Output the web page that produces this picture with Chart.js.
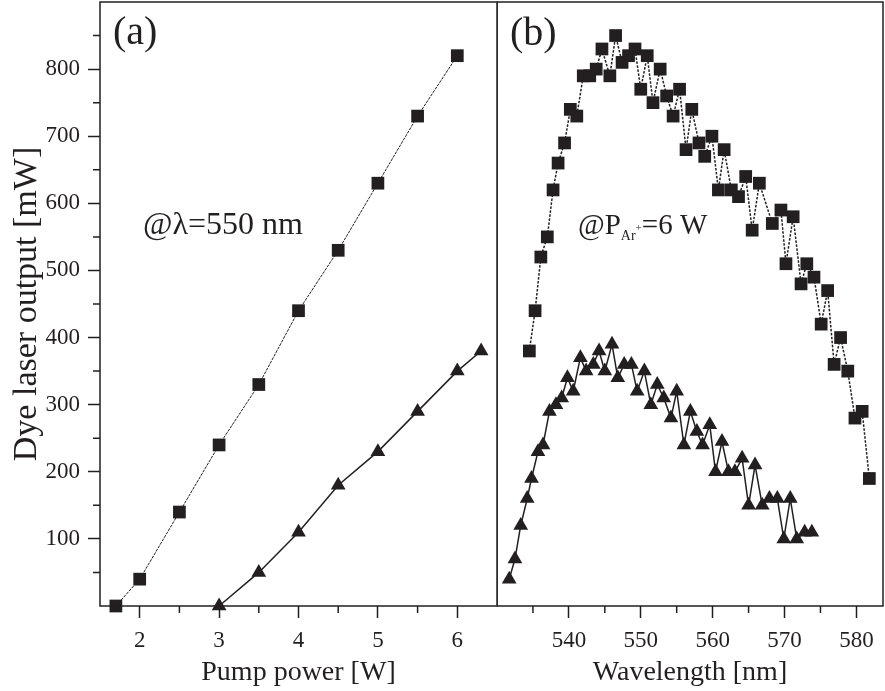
<!DOCTYPE html>
<html>
<head>
<meta charset="utf-8">
<title>Dye laser output</title>
<script src="https://cdn.jsdelivr.net/npm/chart.js@4.4.1/dist/chart.umd.min.js"></script>
<style>
    html, body { margin: 0; padding: 0; background: #fff; }
    #wrap { position: relative; width: 885px; height: 691px; overflow: hidden; }
    #wrap canvas { position: absolute; top: 0; }
    #powerChart { left: 0; }
    #spectrumChart { left: 497px; }
</style>
</head>
<body>
<div id="wrap">
    <canvas id="powerChart" width="499" height="691"></canvas>
    <canvas id="spectrumChart" width="388" height="691"></canvas>
</div>
<script>
// (a) output vs pump power
const pumpPowerSq = [1.7, 2, 2.5, 3, 3.5, 4, 4.5, 5, 5.5, 6];
const outputSq = [0, 40, 140, 240, 330, 440, 530, 630, 730, 820];
const pumpPowerTri = [3, 3.5, 4, 4.5, 5, 5.5, 6, 6.3];
const outputTri = [0, 50, 110, 180, 230, 290, 350, 380];

// (b) tuning curves
const wavelengthSq = [534.5, 535.3, 536.1, 537.0, 537.8, 538.5, 539.4, 540.2, 541.1, 542.0,
    542.9, 543.8, 544.6, 545.7, 546.5, 547.4, 548.3, 549.2, 550.0, 550.9,
    551.7, 552.7, 553.6, 554.5, 555.4, 556.3, 557.1, 558.1, 558.9, 559.9,
    560.8, 561.6, 562.6, 563.6, 564.6, 565.5, 566.5, 568.3, 569.5, 570.2,
    571.2, 572.3, 573.1, 574.1, 575.1, 576.0, 576.9, 577.8, 578.8, 579.8,
    580.8, 581.8];
const spectrumSq = [380, 440, 520, 550, 620, 660, 690, 740, 730, 790,
    790, 800, 830, 790, 850, 810, 820, 830, 770, 820,
    750, 800, 760, 730, 770, 680, 740, 690, 670, 700,
    620, 680, 620, 610, 640, 560, 630, 570, 590, 510,
    580, 480, 510, 490, 420, 470, 360, 400, 350, 280,
    290, 190];
const wavelengthTri = [531.7, 532.5, 533.3, 534.2, 534.8, 535.7, 536.4, 537.3, 538.2, 539.0,
    539.8, 540.6, 541.6, 542.4, 543.4, 544.2, 545.0, 546.0, 546.8, 547.7,
    548.7, 549.5, 550.5, 551.4, 552.3, 553.2, 554.2, 555.0, 556.0, 556.9,
    557.8, 558.6, 559.6, 560.4, 561.3, 562.2, 563.1, 564.1, 565.0, 565.9,
    566.9, 567.9, 569.0, 569.9, 570.8, 571.7, 572.8, 573.8];
const spectrumTri = [40, 70, 120, 160, 190, 230, 240, 290, 300, 310,
    340, 320, 370, 350, 360, 380, 350, 390, 340, 360,
    360, 320, 350, 300, 330, 310, 280, 320, 240, 290,
    260, 240, 270, 200, 245, 200, 200, 220, 150, 210,
    150, 160, 160, 100, 160, 100, 110, 110];

// tick labels
const pumpTicks = [2, 3, 4, 5, 6];
const wavelengthTicks = [540, 550, 560, 570, 580];
const outputTicks = [100, 200, 300, 400, 500, 600, 700, 800];

const INK = '#231f20';
const SERIF = '"Liberation Serif", "Times New Roman", serif';

document.addEventListener('DOMContentLoaded', function() {
    Chart.defaults.font.family = SERIF;
    Chart.defaults.color = INK;

    initPowerChart();
    initSpectrumChart();
});

function toPoints(xs, ys) {
    return xs.map((x, i) => ({ x: x, y: ys[i] }));
}

// keep the plot box fixed: no extra room for overhanging labels
function fixBox(axis, size) {
    if (axis.isHorizontal()) axis.height = size;
    else axis.width = size;
    axis.paddingTop = 0;
    axis.paddingBottom = 0;
    axis.paddingLeft = 0;
    axis.paddingRight = 0;
}

// Box round the plot area
const framePlugin = {
    id: 'frame',
    afterDraw(chart) {
        const a = chart.chartArea;
        const ctx = chart.ctx;
        ctx.save();
        ctx.strokeStyle = INK;
        ctx.lineWidth = 1.5;
        ctx.strokeRect(a.left, a.top, a.right - a.left, a.bottom - a.top);
        ctx.restore();
    }
};

// Short unlabelled ticks between the labelled ones
const minorTickPlugin = {
    id: 'minorTicks',
    afterDraw(chart, args, opts) {
        const ctx = chart.ctx;
        const steps = opts.steps || {};
        ctx.save();
        ctx.strokeStyle = INK;
        ctx.lineWidth = 1.5;
        ctx.beginPath();
        Object.keys(steps).forEach(id => {
            const scale = chart.scales[id];
            const step = steps[id];
            const first = Math.ceil(scale.min / step);
            const last = Math.floor(scale.max / step);
            for (let i = first; i <= last; i++) {
                const v = i * step;
                if (Math.abs(v - scale.min) < 1e-6 || Math.abs(v - scale.max) < 1e-6) continue;
                if (scale.ticks.some(t => Math.abs(t.value - v) < 1e-6)) continue;
                const p = scale.getPixelForValue(v);
                if (scale.isHorizontal()) {
                    ctx.moveTo(p, scale.top);
                    ctx.lineTo(p, scale.top + opts.length);
                } else {
                    ctx.moveTo(scale.right, p);
                    ctx.lineTo(scale.right - opts.length, p);
                }
            }
        });
        ctx.stroke();
        ctx.restore();
    }
};

// Free text in the panels: panel letters and the measurement conditions
const notesPlugin = {
    id: 'notes',
    afterDraw(chart, args, opts) {
        const ctx = chart.ctx;
        ctx.save();
        ctx.fillStyle = INK;
        ctx.textBaseline = 'alphabetic';
        ctx.textAlign = 'left';
        (opts.items || []).forEach(item => {
            let x = item.x;
            item.parts.forEach(part => {
                ctx.font = part.size + 'px ' + SERIF;
                ctx.fillText(part.text, x, item.y + (part.dy || 0));
                x += ctx.measureText(part.text).width;
            });
        });
        ctx.restore();
    }
};

function baseScales(xMin, xMax, xTicks, xTitle, yVisible) {
    return {
        x: {
            type: 'linear',
            min: xMin,
            max: xMax,
            afterBuildTicks: axis => { axis.ticks = xTicks.map(v => ({ value: v })); },
            afterFit: axis => fixBox(axis, 85),
            border: { display: false },
            grid: {
                drawOnChartArea: false,
                drawTicks: true,
                tickLength: 12,
                tickWidth: 1.5,
                tickColor: INK
            },
            ticks: {
                padding: 9,
                font: { size: 23 },
                color: INK,
                maxRotation: 0,
                autoSkip: false
            },
            title: {
                display: true,
                text: xTitle,
                font: { size: 28 },
                color: INK,
                padding: { top: 0, bottom: 2 }
            }
        },
        y: {
            type: 'linear',
            min: 0,
            max: 900,
            display: yVisible,
            afterBuildTicks: axis => { axis.ticks = outputTicks.map(v => ({ value: v })); },
            afterFit: axis => fixBox(axis, yVisible ? 100 : 0),
            border: { display: false },
            grid: {
                drawOnChartArea: false,
                drawTicks: true,
                tickLength: 12,
                tickWidth: 1.5,
                tickColor: INK
            },
            ticks: {
                padding: 8,
                font: { size: 23 },
                color: INK,
                autoSkip: false
            },
            title: {
                display: true,
                text: 'Dye laser output [mW]',
                font: { size: 34 },
                color: INK,
                padding: { top: 7, bottom: 0 }
            }
        }
    };
}

function squareSet(points, lineWidth, dash) {
    return {
        data: points,
        showLine: true,
        borderColor: INK,
        borderWidth: lineWidth,
        borderDash: dash,
        backgroundColor: INK,
        pointStyle: 'rect',
        pointRadius: 9,
        pointBorderWidth: 0,
        pointBackgroundColor: INK,
        pointBorderColor: INK,
        clip: false
    };
}

function triangleSet(points, lineWidth) {
    return {
        data: points,
        showLine: true,
        borderColor: INK,
        borderWidth: lineWidth,
        backgroundColor: INK,
        pointStyle: 'triangle',
        pointRadius: 8.5,
        pointBorderWidth: 0,
        pointBackgroundColor: INK,
        pointBorderColor: INK,
        clip: false
    };
}

function commonOptions(scales, steps, notes) {
    return {
        responsive: false,
        animation: false,
        events: [],
        layout: {
            autoPadding: false,
            padding: { top: 2, right: 2, left: 0, bottom: 0 }
        },
        scales: scales,
        elements: { line: { tension: 0 } },
        plugins: {
            legend: { display: false },
            tooltip: { enabled: false },
            minorTicks: { steps: steps, length: 7 },
            notes: { items: notes }
        }
    };
}

// Initialize panel (a)
function initPowerChart() {
    const ctx = document.getElementById('powerChart');
    if (!ctx) return;

    const notes = [
        { x: 113, y: 44, parts: [{ text: '(a)', size: 40 }] },
        { x: 143, y: 234, parts: [{ text: '@\u03bb=550 nm', size: 32 }] }
    ];

    new Chart(ctx, {
        type: 'scatter',
        data: {
            datasets: [
                squareSet(toPoints(pumpPowerSq, outputSq), 1, [3, 1]),
                triangleSet(toPoints(pumpPowerTri, outputTri), 1.5)
            ]
        },
        options: commonOptions(
            baseScales(1.5, 6.5, pumpTicks, 'Pump power [W]', true),
            { x: 0.5, y: 50 },
            notes
        ),
        plugins: [framePlugin, minorTickPlugin, notesPlugin]
    });
}

// Initialize panel (b)
function initSpectrumChart() {
    const ctx = document.getElementById('spectrumChart');
    if (!ctx) return;

    const notes = [
        { x: 13, y: 45, parts: [{ text: '(b)', size: 40 }] },
        { x: 81, y: 234, parts: [
            { text: '@P', size: 29 },
            { text: 'Ar', size: 14, dy: 6 },
            { text: '+', size: 11, dy: -3 },
            { text: '=6 W', size: 29 }
        ] }
    ];

    new Chart(ctx, {
        type: 'scatter',
        data: {
            datasets: [
                squareSet(toPoints(wavelengthSq, spectrumSq), 1.5, [2.5, 1.5]),
                triangleSet(toPoints(wavelengthTri, spectrumTri), 1.5)
            ]
        },
        options: commonOptions(
            baseScales(530, 583.7, wavelengthTicks, 'Wavelength [nm]', false),
            { x: 5 },
            notes
        ),
        plugins: [framePlugin, minorTickPlugin, notesPlugin]
    });
}
</script>
</body>
</html>
